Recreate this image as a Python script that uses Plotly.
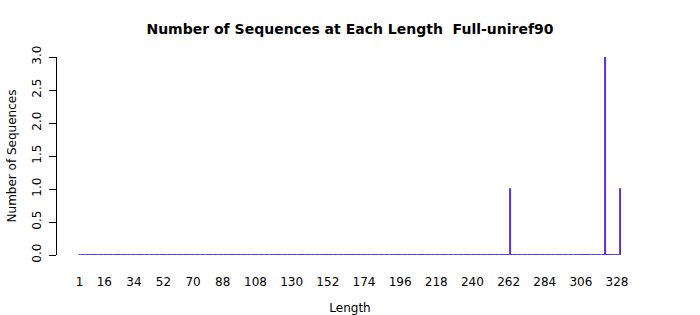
import plotly.graph_objects as go

# Data
lengths = list(range(1, 331))
nonzero = {263: 1, 321: 3, 330: 1}
counts = [nonzero.get(L, 0) for L in lengths]
tick_labels = [1, 16, 34, 52, 70, 88, 108, 130, 152, 174, 196, 218, 240, 262, 284, 306, 328]
y_ticks = [0.0, 0.5, 1.0, 1.5, 2.0, 2.5, 3.0]

font = "DejaVu Sans"

fig = go.Figure()
# zero-height baseline across all bars
fig.add_trace(go.Scatter(
    x=[lengths[0] - 0.42, lengths[-1] + 0.42], y=[0, 0], mode="lines",
    line=dict(color="#3a3aff", width=1.2), hoverinfo="skip", showlegend=False))
fig.add_trace(go.Bar(
    x=lengths, y=counts, width=1 / 1.2,
    marker=dict(color="#4a00a8", line=dict(color="#4020e0", width=0.8)),
    showlegend=False))

fig.update_layout(
    width=700, height=315,
    margin=dict(l=57, r=57, t=57, b=60),
    plot_bgcolor="white", paper_bgcolor="white",
    font=dict(family=font, size=12, color="black"),
    title=dict(text="<b>Number of Sequences at Each Length  Full-uniref90</b>",
               x=0.5, xanchor="center", y=1 - 29 / 315, yanchor="middle",
               font=dict(size=14, family=font)),
    bargap=0,
)
fig.update_xaxes(
    range=[-12.8, 343.8], tickmode="array", tickvals=tick_labels,
    ticktext=[str(t) for t in tick_labels], ticks="", showline=False,
    showgrid=False, zeroline=False, ticklabelstandoff=18, automargin=False,
    title=dict(text="Length", standoff=16, font=dict(size=12)),
)
fig.update_yaxes(
    range=[0, 3], tickmode="array", tickvals=y_ticks,
    ticktext=[f"{v:.1f}" for v in y_ticks], ticks="outside", ticklen=7,
    tickcolor="black", showline=True, linecolor="black", linewidth=1,
    showgrid=False, zeroline=False, tickangle=-90, automargin=False,
    ticklabelstandoff=3,
    title=dict(text="Number of Sequences", standoff=11, font=dict(size=12)),
)

fig.write_html("out.html")
